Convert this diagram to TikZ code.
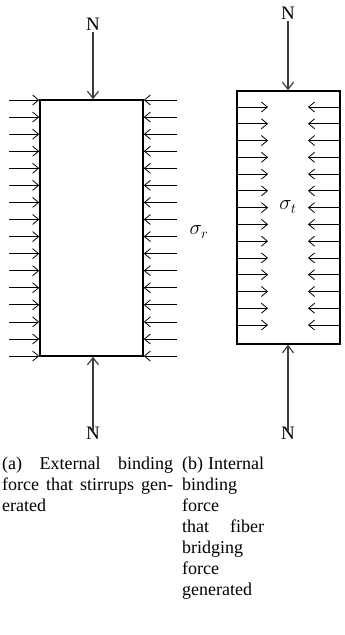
\documentclass[tikz,border=0pt]{standalone}
\usepackage{fontspec}
\setmainfont{Liberation Serif}
\usepackage{tikz}
\usetikzlibrary{arrows.meta, positioning}
\definecolor{loadgray}{RGB}{60,60,60}
\tikzset{
  column/.style={draw, line width=1.6pt, minimum width=103pt, minimum height=#1, inner sep=0pt},
  press/.style={line width=0.8pt, -{Straight Barb[length=6pt,width=10pt,line width=0.8pt]}},
  axial/.style={line width=1.2pt, loadgray, -{Straight Barb[length=7pt,width=11pt,line width=1.2pt]}},
  forcelabel/.style={font=\fontsize{19}{21}\selectfont},
  stresslabel/.style={font=\fontsize{22}{24}\selectfont},
  caption/.style={font=\fontsize{18}{21}\selectfont, align=justify, text width=#1, inner sep=0pt, anchor=north west}
}

\begin{document}
\begin{tikzpicture}[x=1pt, y=-1pt]
  \useasboundingbox (0,0) rectangle (345,635);
  % (a) stirrups
  \node[column=256pt] (colA) at (91.5,228) {};
  \foreach \k in {0,...,15} {
    \coordinate (al\k) at (9, 100+\k*17.07);
    \coordinate (ar\k) at (177, 100+\k*17.07);
    \draw[press] (al\k) -- (al\k -| colA.west);
    \draw[press] (ar\k) -- (ar\k -| colA.east);
  }
  \node[forcelabel] (NAtop) at (93,24) {N};
  \node[forcelabel] (NAbot) at (93,433) {N};
  \draw[axial] ([yshift=2pt]NAtop.south) -- (NAtop.south |- colA.north);
  \draw[axial] ([yshift=-8pt]NAbot.north) -- (NAbot.north |- colA.south);
  \node[stresslabel] (sigR) at (199,232) {$\sigma_r$};
  % (b) fiber bridging
  \node[column=253pt] (colB) at (288.5,217.5) {};
  \foreach \k in {0,...,13} {
    \coordinate (bl\k) at (268, 107+\k*16.77);
    \coordinate (br\k) at (308, 107+\k*16.77);
    \draw[press] (bl\k -| colB.west) -- (bl\k);
    \draw[press] (br\k -| colB.east) -- (br\k);
  }
  \node[forcelabel] (NBtop) at (288,13) {N};
  \node[forcelabel] (NBbot) at (288,433) {N};
  \draw[axial] ([yshift=2pt]NBtop.south) -- (NBtop.south |- colB.north);
  \draw[axial] ([yshift=-8pt]NBbot.north) -- (NBbot.north |- colB.south);
  \node[stresslabel] (sigT) at (288,207) {$\sigma_t$};
  % captions
  \node[caption=171pt] (capA) at (2,457) {(a) External binding\linebreak force that stirrups gen-\linebreak erated};
  \node[caption=82pt] (capB) at (182,457) {(b) Internal\linebreak binding\newline force\newline that fiber\linebreak bridging\newline force\newline generated};
\end{tikzpicture}
\end{document}
